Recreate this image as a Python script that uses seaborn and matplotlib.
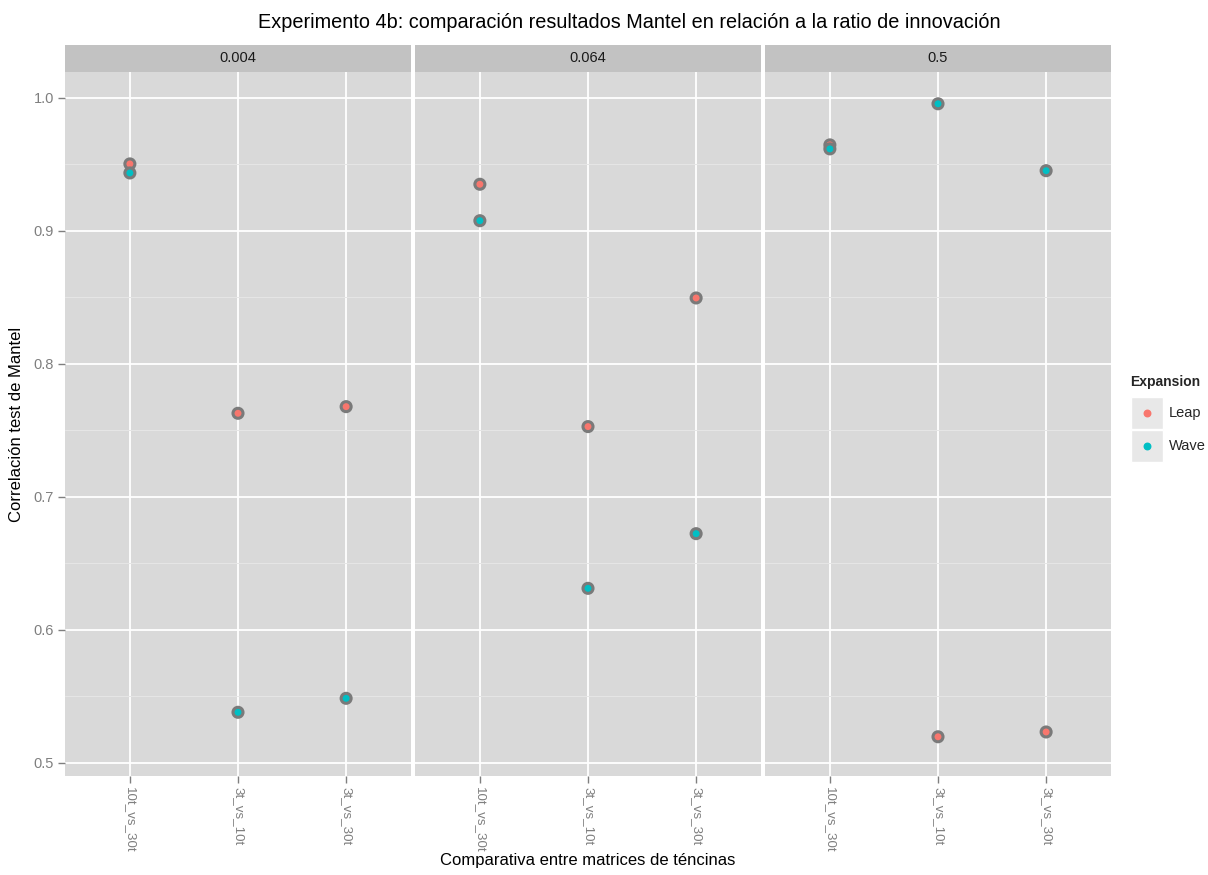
import matplotlib
matplotlib.use("Agg")
import matplotlib.pyplot as plt
from matplotlib.patches import Rectangle
from matplotlib.ticker import MultipleLocator, FormatStrFormatter
import pandas as pd
import seaborn as sns

# Mantel correlation between technique matrices, by innovation ratio and expansion mode
ratios = ["0.004", "0.064", "0.5"]
comparisons = ["10t_vs_30t", "3t_vs_10t", "3t_vs_30t"]
expansions = ["Leap", "Wave"]
leap_004 = [0.9504, 0.7629, 0.7679]
wave_004 = [0.9436, 0.5381, 0.5486]
leap_064 = [0.9351, 0.7529, 0.8496]
wave_064 = [0.9077, 0.6313, 0.6724]
leap_05 = [0.9647, 0.5197, 0.5233]
wave_05 = [0.9617, 0.9956, 0.9453]

series = {
    ("0.004", "Leap"): leap_004, ("0.004", "Wave"): wave_004,
    ("0.064", "Leap"): leap_064, ("0.064", "Wave"): wave_064,
    ("0.5", "Leap"): leap_05, ("0.5", "Wave"): wave_05,
}
rows = []
for (ratio, exp), vals in series.items():
    for comp, v in zip(comparisons, vals):
        rows.append({"ratio": ratio, "comparison": comp, "Expansion": exp, "mantel": v})
df = pd.DataFrame(rows)

palette = {"Leap": "#F8766D", "Wave": "#00BFC4"}

sns.set_theme(style="darkgrid")
plt.rcParams["font.family"] = ["Liberation Sans", "DejaVu Sans"]

W, H = 1208, 875
fig = plt.figure(figsize=(W / 100, H / 100), dpi=100)

panel_bg = "#d9d9d9"
strip_bg = "#c2c2c2"
tick_col = "#7f7f7f"

left_px, panel_w, gap = 65, 346, 4
top_px, bottom_px, strip_h = 72, 776, 27

for i, ratio in enumerate(ratios):
    x0 = left_px + i * (panel_w + gap)
    ax = fig.add_axes([x0 / W, 1 - bottom_px / H, panel_w / W, (bottom_px - top_px) / H])
    sub = df[df["ratio"] == ratio]
    sns.scatterplot(data=sub, x="comparison", y="mantel", hue="Expansion",
                    hue_order=expansions, palette=palette, s=52,
                    edgecolor="#7a7a7a", linewidth=2.2, legend=False, ax=ax, zorder=3)
    ax.set_facecolor(panel_bg)
    ax.set_xlim(-0.6, 2.6)
    ax.set_ylim(0.4902, 1.0195)
    ax.yaxis.set_major_locator(MultipleLocator(0.1))
    ax.yaxis.set_minor_locator(MultipleLocator(0.05))
    ax.grid(which="major", color="white", linewidth=1.3)
    ax.grid(which="minor", axis="y", color="#e6e6e6", linewidth=0.7)
    ax.set_axisbelow(True)
    for s in ax.spines.values():
        s.set_visible(False)
    ax.set_xlabel("")
    ax.set_ylabel("")
    ax.set_xticks(range(len(comparisons)))
    ax.set_xticklabels(comparisons, rotation=270, va="top", ha="center")
    ax.tick_params(axis="x", colors=tick_col, labelcolor="#7f7f7f", labelsize=9.6,
                   length=5, width=1, pad=3, bottom=True)
    ax.tick_params(axis="y", which="major", colors=tick_col, labelcolor="#7f7f7f",
                   labelsize=10.5, length=5, width=1, pad=3, left=(i == 0))
    ax.tick_params(axis="y", which="minor", left=False)
    if i == 0:
        ax.yaxis.set_major_formatter(FormatStrFormatter("%.1f"))
    else:
        ax.set_yticklabels([])

    # facet strip
    sax = fig.add_axes([x0 / W, 1 - top_px / H, panel_w / W, strip_h / H])
    sax.set_facecolor(strip_bg)
    sax.set_xticks([])
    sax.set_yticks([])
    sax.grid(False)
    for s in sax.spines.values():
        s.set_visible(False)
    sax.text(0.5, 0.5, ratio, ha="center", va="center", fontsize=10.5, color="#1a1a1a",
             transform=sax.transAxes)

fig.text(629 / W, 1 - 23 / H,
         "Experimento 4b: comparación resultados Mantel en relación a la ratio de innovación",
         ha="center", va="center", fontsize=14.3, color="black")
fig.text((left_px + 1.5 * panel_w + gap) / W, 1 - 861 / H, "Comparativa entre matrices de téncinas",
         ha="center", va="center", fontsize=12, color="black")
fig.text(17 / W, 1 - 424 / H, "Correlación test de Mantel", ha="center", va="center",
         rotation=90, fontsize=12, color="black")

# legend
lax = fig.add_axes([1128 / W, 1 - 470 / H, 80 / W, 100 / H])
lax.set_xlim(0, 80)
lax.set_ylim(100, 0)
lax.axis("off")
lax.text(2, 12, "Expansion", fontsize=10, fontweight="bold", va="center", ha="left")
for j, exp in enumerate(expansions):
    y0 = 27 + j * 33
    lax.add_patch(Rectangle((3, y0), 32, 32, facecolor="#e8e8e8", edgecolor="white", linewidth=1))
    lax.scatter([19], [y0 + 16], s=22, color=palette[exp], zorder=3)
    lax.text(41, y0 + 16, exp, fontsize=10.5, va="center", ha="left")

fig.savefig("out.png", dpi=100)
